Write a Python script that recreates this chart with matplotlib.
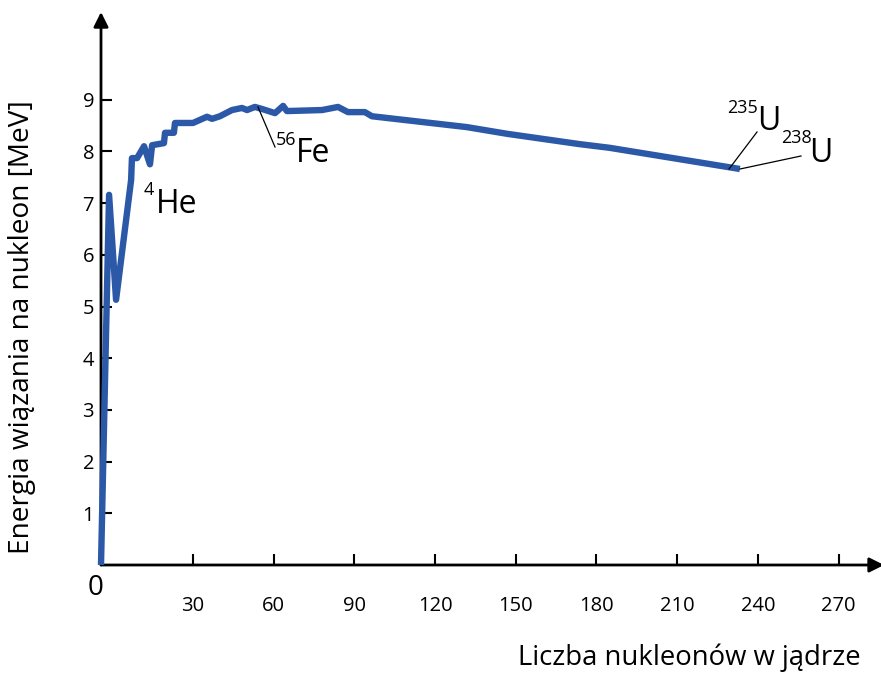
import matplotlib
matplotlib.use("Agg")
import matplotlib.pyplot as plt

plt.rcParams['font.family'] = ['Open Sans', 'DejaVu Sans']

# ---- data ----
mass_number = [0, 3.0, 5.6, 11.2, 11.5, 13.4, 16.0, 18.2, 19.0, 23.4, 23.8, 27.1,
               27.5, 34.2, 39.4, 41.3, 44.2, 48.7, 52.4, 54.3, 57.2, 59.9, 64.7,
               67.7, 69.1, 82.2, 88.1, 91.8, 98.1, 100.7, 136, 151, 178, 189, 237.5]
binding_energy = [0, 7.16, 5.13, 7.45, 7.87, 7.87, 8.10, 7.75, 8.12, 8.16, 8.36, 8.36,
                  8.55, 8.55, 8.67, 8.63, 8.68, 8.80, 8.84, 8.80, 8.86, 8.82, 8.74,
                  8.88, 8.78, 8.80, 8.86, 8.76, 8.76, 8.68, 8.47, 8.34, 8.14, 8.07, 7.66]
x_tick_labels = [30, 60, 90, 120, 150, 180, 210, 240, 270]
y_tick_labels = [1, 2, 3, 4, 5, 6, 7, 8, 9]

W, H = 881, 673
fig = plt.figure(figsize=(W / 100, H / 100), dpi=100)
# axes box in pixels
px_left, px_bottom, px_right, px_top = 101, 565, 876, 12
ax = fig.add_axes([px_left / W, 1 - px_bottom / H,
                   (px_right - px_left) / W, (px_bottom - px_top) / H])
kx, ky = 2.69, 51.7  # pixels per unit
xmax = (px_right - px_left) / kx
ymax = (px_bottom - px_top) / ky
ax.set_xlim(0, xmax)
ax.set_ylim(0, ymax)

def d(px, py):
    return ((px - px_left) / kx, (px_bottom - py) / ky)

for s in ax.spines.values():
    s.set_visible(False)

# axes with arrows
ax.annotate('', xy=(0, ymax), xytext=(0, 0),
            arrowprops=dict(arrowstyle='-|>', lw=2, color='black',
                            mutation_scale=22, shrinkA=0, shrinkB=0),
            annotation_clip=False)
ax.annotate('', xy=(xmax + 3, 0), xytext=(0, 0),
            arrowprops=dict(arrowstyle='-|>', lw=2, color='black',
                            mutation_scale=22, shrinkA=0, shrinkB=0),
            annotation_clip=False)

# curve
ax.plot(mass_number, binding_energy, color='#2b59a8', lw=4.6,
        solid_joinstyle='round', solid_capstyle='butt', clip_on=False, zorder=3)

# ticks
offset = 4.2
ax.set_xticks([v + offset for v in x_tick_labels])
ax.set_xticklabels([str(v) for v in x_tick_labels])
ax.set_yticks(y_tick_labels)
ax.set_yticklabels([str(v) for v in y_tick_labels])
ax.tick_params(axis='x', direction='in', length=8, width=1.5, pad=22, labelsize=14.5)
ax.tick_params(axis='y', direction='in', length=8, width=1.5, pad=5, labelsize=14.5)

# origin label
ax.text(*d(96, 588), '0', fontsize=20, ha='center', va='center', clip_on=False)

# axis titles
fig.text(689 / W, 1 - 658 / H, 'Liczba nukleonów w jądrze', fontsize=19.8,
         ha='center', va='center')
fig.text(22 / W, 1 - 327 / H, 'Energia wiązania na nukleon [MeV]', fontsize=20.2,
         ha='center', va='center', rotation=90)

# annotations
big, small = 23, 13
ax.text(*d(144, 195), '4', fontsize=small, ha='left', va='baseline')
ax.text(*d(156, 213), 'He', fontsize=big, ha='left', va='baseline')
ax.text(*d(276, 145), '56', fontsize=small, ha='left', va='baseline')
ax.text(*d(296, 162), 'Fe', fontsize=big, ha='left', va='baseline')
ax.text(*d(727, 113), '235', fontsize=small, ha='left', va='baseline', clip_on=False)
ax.text(*d(757, 130), 'U', fontsize=big, ha='left', va='baseline', clip_on=False)
ax.text(*d(781, 143), '238', fontsize=small, ha='left', va='baseline', clip_on=False)
ax.text(*d(809, 162), 'U', fontsize=big, ha='left', va='baseline', clip_on=False)

for (a, b) in [((258, 107), (275, 147)), ((757, 132), (729, 169)), ((801, 156), (740, 169))]:
    p, q = d(*a), d(*b)
    ax.plot([p[0], q[0]], [p[1], q[1]], color='black', lw=0.9, zorder=4)

fig.savefig('out.png', dpi=100)
